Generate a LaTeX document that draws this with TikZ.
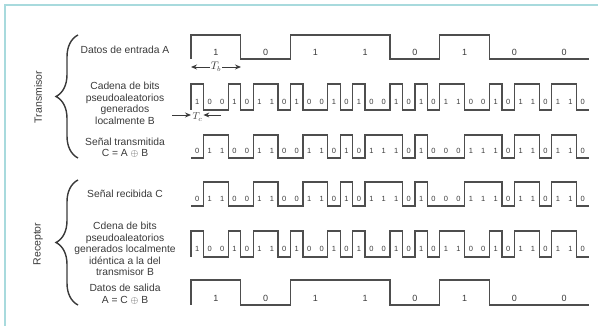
\documentclass[tikz,border=0pt]{standalone}
\usepackage{fontspec}
\setmainfont{Liberation Sans}
\usetikzlibrary{decorations.pathreplacing,arrows.meta}
\definecolor{framec}{HTML}{A8DADD}
\definecolor{ink}{HTML}{3A3A3A}
\tikzset{
  wave/.style={draw=ink!90, line width=1.3pt, line join=miter},
  chiplbl/.style={inner sep=0pt, text=ink, font=\fontsize{7.5}{8}\selectfont},
  datalbl/.style={inner sep=0pt, text=ink, font=\fontsize{9}{10}\selectfont},
  desc/.style={align=center, inner sep=0pt, text=ink, font=\fontsize{10.3}{11.5}\selectfont},
  side/.style={rotate=90, inner sep=0pt, text=ink, font=\fontsize{10.5}{12}\selectfont},
  bracec/.style={draw=ink, line width=1.4pt, decorate, decoration={brace, amplitude=22pt}},
  dimarrow/.style={draw=ink, line width=0.9pt, -{Stealth[length=6pt,width=5pt]}},
}
% #1 bits, #2 width, #3 y high, #4 y low, #5 label y, #6 name prefix, #7 label style
\newcommand\wavesig[7]{%
  \draw[wave] (191,#4) foreach \v [count=\k] in {#1} { -- ({191+(\k-1)*#2},{#4+\v*(#3-#4)}) -- ({191+\k*#2},{#4+\v*(#3-#4)}) };
  \foreach \v [count=\k] in {#1} { \node[#7] (#6\k) at ({191+(\k-0.5)*#2},#5) {\v}; }
}
\begin{document}
\begin{tikzpicture}[x=1pt,y=-1pt]
\useasboundingbox (0,0) rectangle (598,334);
% frame
\draw[framec, line width=1.5pt] (5,326) -- (5,5) -- (598,5);

% side labels and braces
\node[side] (tx) at (38,97) {Transmisor};
\node[side] (rx) at (38,244) {Receptor};
\draw[bracec] (78,158) -- (78,35);
\draw[bracec] (78,305) -- (78,180);

% descriptions
\node[desc] (dA) at (125,50) {Datos de entrada A};
\node[desc] (dB) at (125,103.5) {Cadena de bits\\pseudoaleatorios\\generados\\localmente B};
\node[desc] (dC) at (125,147.5) {Señal transmitida\\C = A $\oplus$ B};
\node[desc] (dCr) at (125,194) {Señal recibida C};
\node[desc] (dBr) at (125,249) {Cdena de bits\\pseudoaleatorios\\generados localmente\\idéntica a la del\\transmisor B};
\node[desc] (dAr) at (125,294) {Datos de salida\\A = C $\oplus$ B};

% waveforms
\wavesig{1,0,1,1,0,1,0,0}{49.75}{35}{59}{52}{a}{datalbl}
\wavesig{1,0,0,1,0,1,1,0,1,0,0,1,0,1,0,0,1,0,1,0,1,1,0,0,1,0,1,1,0,1,1,0}{12.4375}{84}{110}{102}{b}{chiplbl}
\wavesig{0,1,1,0,0,1,1,0,0,1,1,0,1,0,1,1,1,0,1,0,0,0,1,1,1,0,1,1,0,1,1,0}{12.4375}{135}{158}{151}{c}{chiplbl}
\wavesig{0,1,1,0,0,1,1,0,0,1,1,0,1,0,1,1,1,0,1,0,0,0,1,1,1,0,1,1,0,1,1,0}{12.4375}{182}{206}{199}{cr}{chiplbl}
\wavesig{1,0,0,1,0,1,1,0,1,0,0,1,0,1,0,0,1,0,1,0,1,1,0,0,1,0,1,1,0,1,1,0}{12.4375}{231}{257}{249}{br}{chiplbl}
\wavesig{1,0,1,1,0,1,0,0}{49.75}{280}{305}{298}{ar}{datalbl}

% Tb dimension
\coordinate (tb1) at (191,67);
\coordinate (tb2) at (241,67);
\node[inner sep=1pt, fill=white, text=ink, font=\fontsize{10.5}{11}\selectfont] (tbl) at (216,67) {$T_b$};
\draw[dimarrow] (tbl.west) -- (tb1);
\draw[dimarrow] (tbl.east) -- (tb2);

% Tc dimension
\coordinate (tc1s) at (172,115);
\coordinate (tc1) at (191,115);
\coordinate (tc2s) at (221,115);
\coordinate (tc2) at (203.4,115);
\node[inner sep=0pt, text=ink, font=\fontsize{10}{11}\selectfont] (tcl) at (197.5,117) {$T_c$};
\draw[dimarrow] (tc1s) -- (tc1);
\draw[dimarrow] (tc2s) -- (tc2);
\end{tikzpicture}
\end{document}
